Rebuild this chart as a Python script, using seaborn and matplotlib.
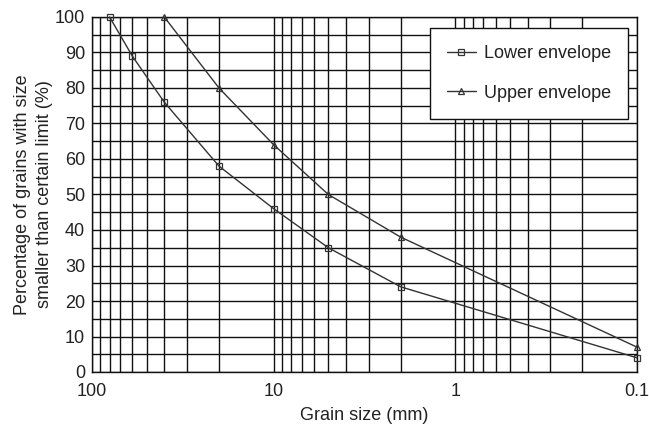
import matplotlib
matplotlib.use("Agg")
import matplotlib.pyplot as plt
import seaborn as sns
import pandas as pd
import numpy as np
from matplotlib.ticker import LogLocator, FixedLocator, FixedFormatter, NullFormatter

# Data
lower_size = [80, 60, 40, 20, 10, 5, 2, 0.1]
lower_pct = [100, 89, 76, 58, 46, 35, 24, 4]
upper_size = [40, 20, 10, 5, 2, 0.1]
upper_pct = [100, 80, 64, 50, 38, 7]
x_ticks = [100, 10, 1, 0.1]
x_tick_labels = ["100", "10", "1", "0.1"]
y_ticks = [0, 10, 20, 30, 40, 50, 60, 70, 80, 90, 100]

df = pd.concat([
    pd.DataFrame({"size": lower_size, "pct": lower_pct, "series": "Lower envelope"}),
    pd.DataFrame({"size": upper_size, "pct": upper_pct, "series": "Upper envelope"}),
])

sns.set_theme(style="white")
plt.rcParams['font.family'] = ['Liberation Sans', 'DejaVu Sans']

fig = plt.figure(figsize=(6.49, 4.25), dpi=100)
ax = fig.add_axes([92/649, 1-372/425, (637-92)/649, (372-17)/425])

line_col = "#333333"
sns.lineplot(data=df, x="size", y="pct", hue="series", style="series",
             markers={"Lower envelope": "s", "Upper envelope": "^"},
             dashes=False, palette={"Lower envelope": line_col, "Upper envelope": line_col},
             markersize=4.5, markerfacecolor="none", markeredgecolor=line_col,
             markeredgewidth=0.9, linewidth=1.0, ax=ax, sort=False, zorder=3)
for ln in ax.lines:
    ln.set_clip_on(False)

ax.set_xscale("log")
ax.set_xlim(100, 0.1)
ax.set_ylim(0, 100)

# grid
ax.xaxis.set_major_locator(FixedLocator(x_ticks))
ax.xaxis.set_major_formatter(FixedFormatter(x_tick_labels))
ax.xaxis.set_minor_locator(LogLocator(base=10, subs=np.arange(2, 10), numticks=20))
ax.xaxis.set_minor_formatter(NullFormatter())
ax.yaxis.set_major_locator(FixedLocator(y_ticks))
ax.yaxis.set_minor_locator(FixedLocator([5, 15, 25, 35, 45, 55, 65, 75, 85, 95]))
ax.grid(True, which="both", color="#111111", linewidth=1.0)
ax.set_axisbelow(True)
ax.tick_params(which="both", length=0, labelsize=13, colors="#222222")
ax.tick_params(axis="x", pad=8)
ax.tick_params(axis="y", pad=5)

for s in ax.spines.values():
    s.set_color("#111111")
    s.set_linewidth(1.0)

ax.set_xlabel("Grain size (mm)", fontsize=13, color="#222222", labelpad=5)
ax.set_ylabel("Percentage of grains with size\nsmaller than certain limit (%)",
              fontsize=13, color="#222222", labelpad=1, linespacing=1.45)

leg = ax.legend(loc="upper right", bbox_to_anchor=((628-92)/545, (372-28)/355), fontsize=13,
                frameon=True, fancybox=False, framealpha=1, edgecolor="#111111",
                handlelength=1.6, handletextpad=0.45, borderpad=0.95, labelspacing=1.25,
                borderaxespad=0)
leg.get_frame().set_linewidth(1.0)
leg.set_zorder(5)
for t in leg.get_texts():
    t.set_color("#222222")

fig.savefig("out.png", dpi=100)
